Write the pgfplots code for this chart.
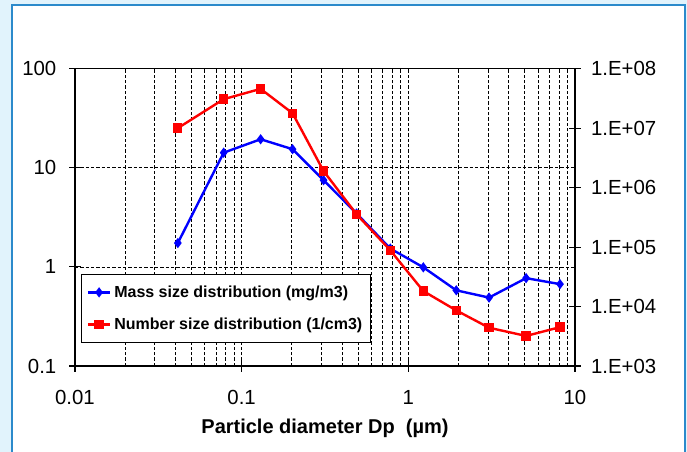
\documentclass[border=0pt]{standalone}
\usepackage{fontspec}
\setmainfont{Liberation Sans}
\usepackage{pgfplots}
\pgfplotsset{compat=1.18}
\definecolor{bgblue}{RGB}{225,243,252}
\definecolor{frameblue}{RGB}{43,138,203}

% 1 px of the reference = 0.75pt; axis origin = pixel (75,366)
\pgfplotsset{
  sharedaxis/.style={
    scale only axis, width=375pt, height=223pt,
    xmin=0.01, xmax=10,
    tick align=center, major tick length=9pt, minor tick length=0pt,
    ticklabel style={font=\fontsize{15.3}{17}\selectfont},
    axis line style={black, line width=0.8pt},
    major tick style={black, line width=0.8pt},
  },
}

\begin{document}
\begin{tikzpicture}
\begin{scope}
  \clip (-56.25pt,-64.5pt) rectangle (459pt,274.5pt);
  \fill[bgblue] (-56.25pt,-64.5pt) rectangle (459pt,274.5pt);
  \filldraw[fill=white, draw=frameblue, line width=1.5pt] (-47.25pt,-80pt) rectangle (457.5pt,270.75pt);
\end{scope}

\begin{loglogaxis}[
  sharedaxis,
  ymin=0.1, ymax=100,
  xtick={0.01,0.1,1,10}, xticklabels={0.01,0.1,1,10},
  minor xtick={0.02,0.03,0.04,0.05,0.06,0.07,0.08,0.09,0.2,0.3,0.4,0.5,0.6,0.7,0.8,0.9,2,3,4,5,6,7,8,9},
  ytick={0.1,1,10,100}, yticklabels={0.1,1,10,100},
  xtick pos=bottom, ytick pos=left,
  xticklabel style={yshift=-10pt},
  yticklabel style={xshift=-6pt},
  xmajorgrids, xminorgrids, ymajorgrids,
  grid style={black, dash pattern=on 2.5pt off 1.5pt, line width=0.5pt},
  xlabel={\bfseries Particle diameter Dp\ \ (µm)},
  xlabel style={font=\fontsize{15}{17}\selectfont, at={(axis description cs:0.5,-0.208)}, anchor=center},
]
\addplot[blue, line width=1.8pt, mark=diamond*, mark size=2.4pt] coordinates {
  (0.0414,1.74) (0.078,14.2) (0.130,19.4) (0.202,15.4) (0.310,7.5) (0.489,3.46)
  (0.78,1.53) (1.23,0.99) (1.94,0.58) (3.05,0.49) (5.09,0.77) (8.13,0.67)
};
\end{loglogaxis}

\begin{loglogaxis}[
  sharedaxis,
  ymin=1e3, ymax=1e8,
  axis x line=none, axis y line*=right,
  ytick={1e3,1e4,1e5,1e6,1e7,1e8},
  yticklabels={1.E+03,1.E+04,1.E+05,1.E+06,1.E+07,1.E+08},
  yticklabel style={xshift=4pt},
  legend style={at={(0.0114,0.308)}, anchor=north west, draw=black, line width=0.8pt,
    font=\fontsize{12}{14}\bfseries, inner xsep=4pt, inner ysep=6pt, row sep=10pt},
  legend cell align=left,
  legend image code/.code={
    \draw[#1, mark=none] (0pt,0pt) -- (17pt,0pt);
    \draw[#1, only marks] plot coordinates {(8.5pt,0pt)};},
]
\addlegendimage{blue, line width=1.8pt, mark=diamond*, mark size=2.4pt}
\addlegendentry{Mass size distribution (mg/m3)}
\addplot[red, line width=1.8pt, mark=square*, mark size=2.6pt] coordinates {
  (0.0414,1.0e7) (0.078,3.07e7) (0.130,4.57e7) (0.202,1.78e7) (0.310,1.9e6) (0.489,3.56e5)
  (0.78,8.8e4) (1.23,1.82e4) (1.94,8.6e3) (3.05,4.4e3) (5.09,3.2e3) (8.13,4.5e3)
};
\addlegendentry{Number size distribution (1/cm3)}
\end{loglogaxis}
\end{tikzpicture}
\end{document}
